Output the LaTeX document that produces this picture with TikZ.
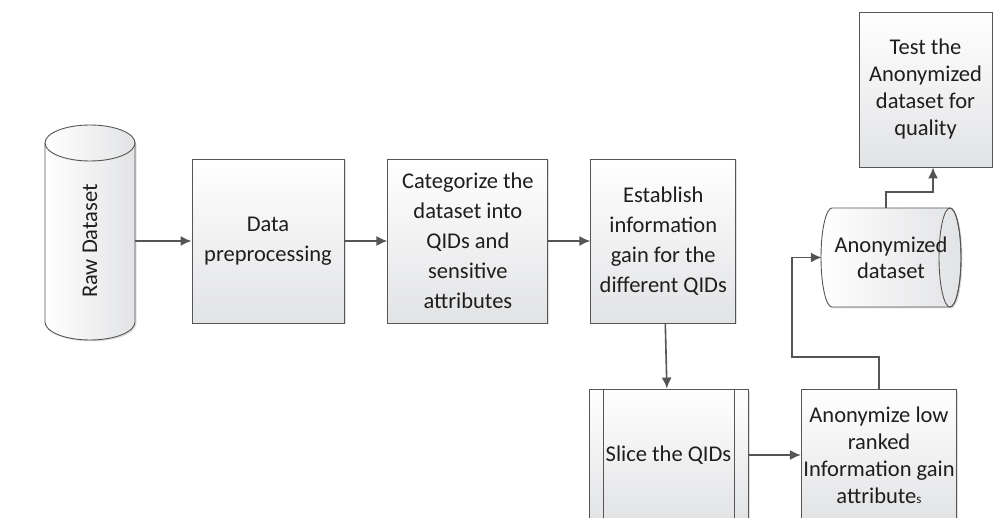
\documentclass[tikz,border=0pt]{standalone}
\usepackage{fontspec}
\setmainfont{Carlito}
\usepackage{xcolor}
\usepackage{tikz}
\usetikzlibrary{shapes,arrows,arrows.meta,positioning,shadows}
\definecolor{edgegray}{RGB}{85,85,85}
\definecolor{textgray}{RGB}{30,30,30}
\definecolor{fillgray}{RGB}{226,227,229}

\begin{document}
\begin{tikzpicture}[x=1pt, y=-1pt, auto,
  every node/.style={font=\fontsize{22.5}{30}\selectfont, text=textgray},
  tight/.style={font=\fontsize{22.5}{27}\selectfont},
  box/.style={rectangle,draw=edgegray,line width=0.9pt,top color=white,bottom color=fillgray,
    align=center,inner sep=2pt,
    drop shadow={shadow xshift=1.5pt,shadow yshift=-1.5pt,opacity=0.25}},
  store/.style={rectangle,align=center,inner sep=0pt},
  cyl/.style={draw=edgegray,line width=0.9pt,left color=white,right color=fillgray,
    drop shadow={shadow xshift=1.5pt,shadow yshift=-1.5pt,opacity=0.25}},
  arrow/.style={-{Latex[length=11pt,width=10pt]},line width=1.6pt,draw=edgegray}]
  \useasboundingbox (0,0) rectangle (993,518);
  % cylinder bodies first, text nodes on top
  \coordinate (rawc) at (90,232.5);
  \coordinate (dsc) at (891,257.5);
  \path[cyl] ([shift={(-45,-89.5)}]rawc) -- ([shift={(-45,89.5)}]rawc)
    arc[start angle=180,end angle=0,x radius=45,y radius=18]
    -- ([shift={(45,-89.5)}]rawc)
    arc[start angle=0,end angle=-180,x radius=45,y radius=18] -- cycle;
  \draw[edgegray,line width=0.9pt] ([shift={(-45,-89.5)}]rawc)
    arc[start angle=180,end angle=0,x radius=45,y radius=18];
  \path[cyl] ([shift={(-59,-49.5)}]dsc)
    arc[start angle=-90,end angle=-270,x radius=11,y radius=49.5]
    -- ([shift={(59,49.5)}]dsc)
    arc[start angle=90,end angle=-90,x radius=11,y radius=49.5] -- cycle;
  \draw[edgegray,line width=0.9pt] ([shift={(59,0)}]dsc) ellipse[x radius=11,y radius=49.5];
  \node[store,minimum width=90pt,minimum height=179pt] (raw) at (rawc) {\rotatebox{90}{Raw Dataset\hspace*{17pt}}};
  \node[store,minimum width=118pt,minimum height=99pt,font=\fontsize{22.5}{26}\selectfont] (anonds) at (dsc) {Anonymized\\dataset};
  \node[box,minimum width=152pt,minimum height=164pt] (prep) at (268,241) {Data\\preprocessing};
  \node[box,minimum width=160pt,minimum height=164pt,right=43pt of prep] (cat) {Categorize the\\dataset into\\QIDs and\\sensitive\\attributes};
  \node[box,minimum width=145pt,minimum height=164pt,right=42pt of cat] (est) {Establish\\information\\gain for the\\different QIDs};
  \node[box,minimum width=159pt,minimum height=132pt] (slice) at (668.5,455) {Slice the QIDs};
  \node[box,tight,minimum width=144pt,minimum height=132pt] (anon) at (879,455) {Anonymize low\\ranked\\Information gain\\attribute{\fontsize{13}{13}\selectfont s}};
  \node[box,tight,minimum width=133pt,minimum height=155pt] (test) at (925.5,89.5) {Test the\\Anonymized\\dataset for\\quality};
  \draw[edgegray,line width=0.9pt] ([xshift=15pt]slice.north west) -- ([xshift=15pt]slice.south west);
  \draw[edgegray,line width=0.9pt] ([xshift=-14pt]slice.north east) -- ([xshift=-14pt]slice.south east);
  \coordinate (bend) at (792,357);
  \coordinate (up1) at (886,192);
  \coordinate (up2) at (933,192);
  \draw[arrow] (prep.west -| raw.east) -- (prep.west);
  \draw[arrow] (prep) -- (cat);
  \draw[arrow] (cat) -- (est);
  \draw[arrow] (est) -- (slice);
  \draw[arrow] (slice) -- (anon);
  \draw[arrow] (anon.north) |- (bend) |- ([xshift=-10pt]anonds.west);
  \draw[arrow] (up1 |- anonds.north) -- (up1) -- (up2) -- (up2 |- test.south);
\end{tikzpicture}
\end{document}
